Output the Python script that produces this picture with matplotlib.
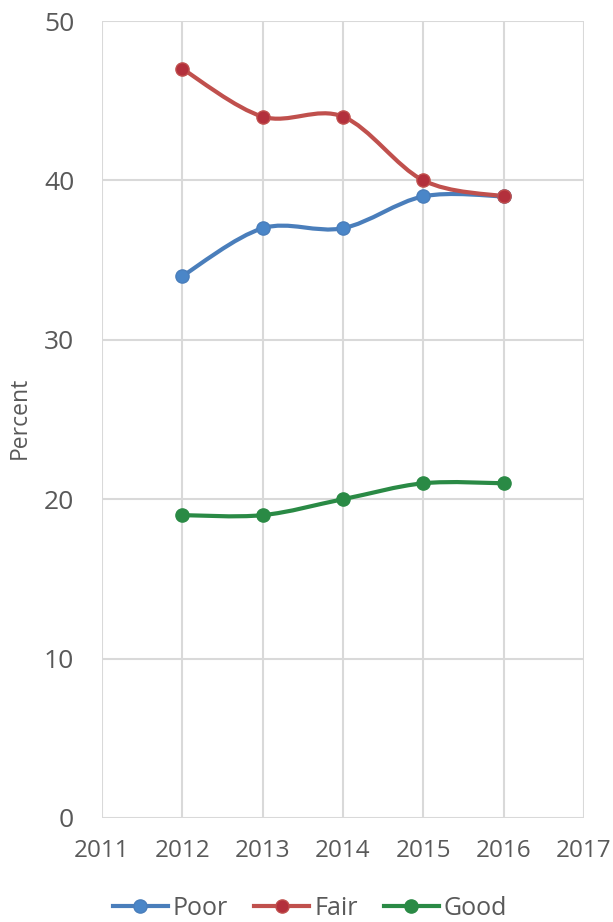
import numpy as np
import matplotlib
matplotlib.use("Agg")
import matplotlib.pyplot as plt
from matplotlib.path import Path
from matplotlib.patches import PathPatch
from matplotlib.lines import Line2D

years = [2012, 2013, 2014, 2015, 2016]
poor = [34, 37, 37, 39, 39]
fair = [47, 44, 44, 40, 39]
good = [19, 19, 20, 21, 21]

series = [
    ("Poor", poor, "#4A7EBB", "#4A86C8"),
    ("Fair", fair, "#C0504D", "#B3303C"),
    ("Good", good, "#2A8A45", "#2A8A45"),
]

plt.rcParams['font.family'] = ['Open Sans', 'DejaVu Sans']


def smooth_path(x, y):
    # excel-like smoothed line: cubic bezier with catmull-rom control points
    pts = np.column_stack([x, y]).astype(float)
    ext = np.vstack([pts[0], pts, pts[-1]])
    verts = [pts[0]]
    codes = [Path.MOVETO]
    for i in range(len(pts) - 1):
        p0, p1, p2, p3 = ext[i], ext[i + 1], ext[i + 2], ext[i + 3]
        c1 = p1 + (p2 - p0) / 6.0
        c2 = p2 - (p3 - p1) / 6.0
        verts += [c1, c2, p2]
        codes += [Path.CURVE4] * 3
    return Path(verts, codes)


fig = plt.figure(figsize=(6.13, 9.22), dpi=100)
ax = fig.add_axes([0.1664, 0.1128, 0.7863, 0.8644])

handles = []
for name, vals, lc, mc in series:
    patch = PathPatch(smooth_path(years, vals), facecolor='none', edgecolor=lc,
                      lw=3, capstyle='round', zorder=3)
    ax.add_patch(patch)
    ax.plot(years, vals, 'o', color=mc, markeredgecolor=lc, markeredgewidth=1,
            markersize=9.5, zorder=4)
    handles.append(Line2D([0], [0], color=lc, lw=3, marker='o', markersize=9.5,
                          markerfacecolor=mc, markeredgecolor=lc, label=name))

ax.set_xlim(2011, 2017)
ax.set_ylim(0, 50)
ax.set_xticks(range(2011, 2018))
ax.set_yticks(range(0, 51, 10))
ax.grid(True, color='#D9D9D9', lw=1.5, zorder=0)
ax.set_axisbelow(True)
for s in ax.spines.values():
    s.set_visible(False)
ax.tick_params(length=0, labelcolor='#595959')
ax.tick_params(axis='x', pad=15, labelsize=17.5)
ax.tick_params(axis='y', pad=20, labelsize=19)

fig.text(20 / 613, 1 - 418 / 922, 'Percent', rotation=90, fontsize=16.5,
         color='#595959', ha='center', va='center')

fig.legend(handles=handles, loc='center', ncol=3, frameon=False,
           fontsize=18, labelcolor='#595959', bbox_to_anchor=(310 / 613, 1 - 908 / 922),
           handlelength=2.2, handletextpad=0.2, columnspacing=1.05)

fig.savefig('out.png', dpi=100)
